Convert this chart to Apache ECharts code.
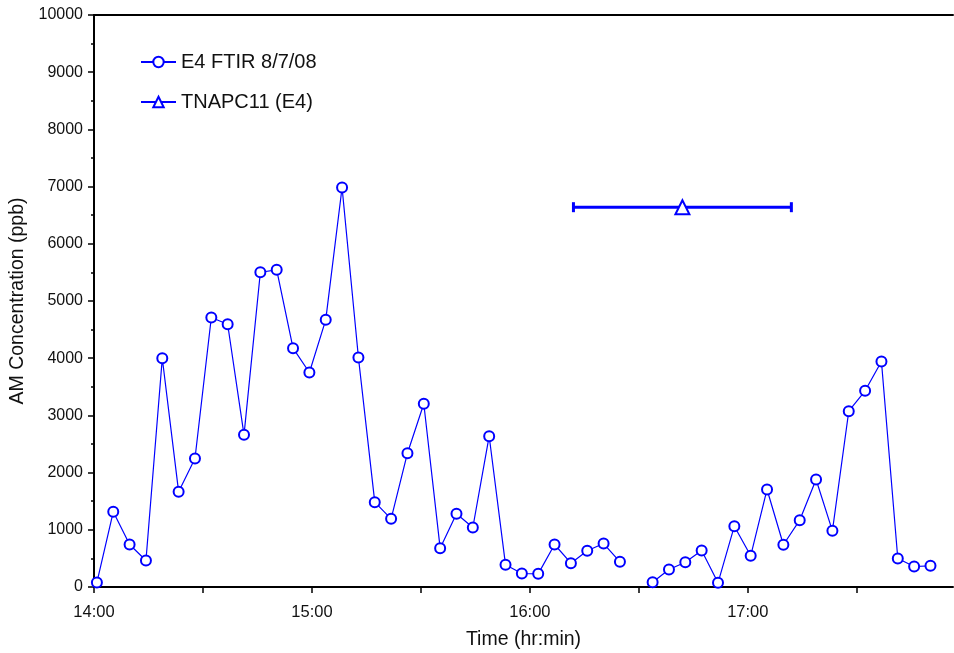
<!DOCTYPE html>
<html>
<head>
<meta charset="utf-8">
<script src="https://cdn.jsdelivr.net/npm/echarts@6/dist/echarts.min.js"></script>
<style>
html,body{margin:0;padding:0;background:#fff;}
#chart{width:954px;height:653px;}
</style>
</head>
<body>
<div id="chart"></div>
<script>
// ---- Data ----
var ftirName = 'E4 FTIR 8/7/08';
var ftirTimes = [
  '14:00:48','14:05:18','14:09:48','14:14:18','14:18:48','14:23:18','14:27:48','14:32:18',
  '14:36:48','14:41:18','14:45:48','14:50:18','14:54:48','14:59:18','15:03:48','15:08:18',
  '15:12:48','15:17:18','15:21:48','15:26:18','15:30:48','15:35:18','15:39:48','15:44:18',
  '15:48:48','15:53:18','15:57:48','16:02:18','16:06:48','16:11:18','16:15:48','16:20:18',
  '16:24:48','16:29:18','16:33:48','16:38:18','16:42:48','16:47:18','16:51:48','16:56:18',
  '17:00:48','17:05:18','17:09:48','17:14:18','17:18:48','17:23:18','17:27:48','17:32:18',
  '17:36:48','17:41:18','17:45:48','17:50:18'
];
var ftirConc = [
  80, 1315, 743, 463, 4000, 1664, 2246, 4711,
  4594, 2660, 5503, 5545, 4175, 3750, 4671, 6984,
  4012, 1483, 1192, 2339, 3203, 679, 1280, 1040,
  2636, 388, 236, 230, 743, 416, 633, 760,
  440, null, 84, 306, 434, 638, 73, 1063,
  545, 1705, 738, 1168, 1879, 982, 3073, 3430,
  3942, 498, 358, 370
];

var tnapcName = 'TNAPC11 (E4)';
var tnapcTime = '16:42:00';
var tnapcStart = '16:12:00';
var tnapcEnd = '17:12:00';
var tnapcConc = 6640;

var xTickStart = '14:00:00';
var xAxisEnd = '17:56:30';
var yMin = 0, yMax = 10000;

// ---- helpers ----
function toMin(s) {
  var p = s.split(':').map(Number);
  return (p[0] - 14) * 60 + p[1] + (p[2] || 0) / 60;
}
function fmtMin(v) {
  var h = 14 + Math.floor(v / 60);
  var m = Math.round(v % 60);
  return h + ':' + (m < 10 ? '0' : '') + m;
}

var ftirData = ftirTimes.map(function (t, i) { return [toMin(t), ftirConc[i]]; });

var FONT = '"Liberation Sans", Arial, sans-serif';
var BLUE = '#0000ff';
var TXT = '#111';

var chart = echarts.init(document.getElementById('chart'), null, {renderer: 'canvas'});
chart.setOption({
  animation: false,
  backgroundColor: '#fff',
  textStyle: {fontFamily: FONT},
  grid: {left: 94, right: 1, top: 15, bottom: 66, containLabel: false, outerBoundsMode: 'none'},
  legend: {
    orient: 'vertical',
    left: 135,
    top: 47,
    itemWidth: 35,
    itemHeight: 13,
    itemGap: 20,
    data: [ftirName, tnapcName],
    textStyle: {fontFamily: FONT, fontSize: 20, color: TXT}
  },
  xAxis: [{
    type: 'value',
    min: toMin(xTickStart),
    max: toMin(xAxisEnd),
    interval: 30,
    name: 'Time (hr:min)',
    nameLocation: 'middle',
    nameGap: 43,
    nameTextStyle: {fontFamily: FONT, fontSize: 19.5, color: TXT},
    axisLine: {show: true, onZero: false, lineStyle: {color: '#000', width: 2}},
    axisTick: {show: true, inside: false, length: 6, lineStyle: {color: '#000', width: 1.5}},
    axisLabel: {
      show: true, margin: 17, fontFamily: FONT, fontSize: 16.5, color: TXT,
      showMaxLabel: false,
      formatter: function (v) { return (Math.abs(v % 60) < 1e-6) ? fmtMin(v) : ''; }
    },
    splitLine: {show: false}
  }, {
    type: 'value',
    position: 'top',
    min: toMin(xTickStart),
    max: toMin(xAxisEnd),
    axisLine: {show: true, onZero: false, lineStyle: {color: '#000', width: 2}},
    axisTick: {show: false},
    axisLabel: {show: false},
    splitLine: {show: false}
  }],
  yAxis: {
    type: 'value',
    min: yMin,
    max: yMax,
    interval: 1000,
    name: 'AM Concentration (ppb)',
    nameLocation: 'middle',
    nameGap: 55,
    nameTextStyle: {fontFamily: FONT, fontSize: 19.5, color: TXT},
    axisLine: {show: true, onZero: false, lineStyle: {color: '#000', width: 2}},
    axisTick: {show: true, inside: false, length: 6, lineStyle: {color: '#000', width: 1.5}},
    minorTick: {show: true, splitNumber: 2, length: 3, lineStyle: {color: '#000', width: 1.5}},
    axisLabel: {
      margin: 11, fontFamily: FONT, fontSize: 16, color: TXT,
      formatter: function (v) { return String(v); }
    },
    splitLine: {show: false},
    minorSplitLine: {show: false}
  },
  series: [{
    name: ftirName,
    type: 'line',
    data: ftirData,
    connectNulls: false,
    symbol: 'emptyCircle',
    symbolSize: 10,
    showAllSymbol: true,
    lineStyle: {color: BLUE, width: 1.2},
    itemStyle: {color: BLUE, borderColor: BLUE, borderWidth: 1.5},
    z: 3
  }, {
    name: tnapcName + ' range',
    type: 'custom',
    data: [[toMin(tnapcStart), toMin(tnapcEnd), tnapcConc]],
    renderItem: function (params, api) {
      var p1 = api.coord([api.value(0), api.value(2)]);
      var p2 = api.coord([api.value(1), api.value(2)]);
      var st = {stroke: BLUE, lineWidth: 3};
      return {
        type: 'group',
        children: [
          {type: 'line', shape: {x1: p1[0], y1: p1[1], x2: p2[0], y2: p2[1]}, style: st},
          {type: 'line', shape: {x1: p1[0], y1: p1[1] - 5, x2: p1[0], y2: p1[1] + 5}, style: st},
          {type: 'line', shape: {x1: p2[0], y1: p2[1] - 5, x2: p2[0], y2: p2[1] + 5}, style: st}
        ]
      };
    },
    z: 2
  }, {
    name: tnapcName,
    type: 'line',
    data: [[toMin(tnapcTime), tnapcConc]],
    symbol: 'emptyTriangle',
    symbolSize: 14,
    lineStyle: {color: BLUE, width: 1.2},
    itemStyle: {color: BLUE, borderColor: BLUE, borderWidth: 1.5},
    z: 4
  }]
});
</script>
</body>
</html>
